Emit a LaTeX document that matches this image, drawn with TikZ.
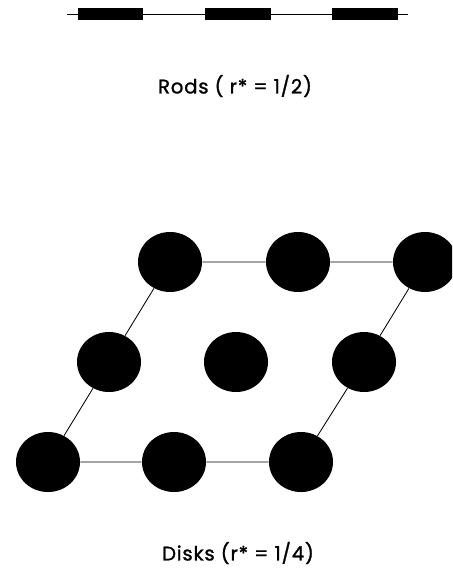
\documentclass[tikz,border=0pt]{standalone}
\usepackage{fontspec}
\setmainfont{Poppins}[LetterSpace=4, FakeBold=1.2]
\usetikzlibrary{shapes.geometric}
\tikzset{
    rod/.style={draw=none, fill=black, rectangle, inner sep=0pt,
        minimum width=1.625cm, minimum height=0.28cm},
    disk/.style={draw=none, fill=black, ellipse, inner sep=0pt,
        minimum width=1.6cm, minimum height=1.5cm},
    caption/.style={font=\fontsize{14}{16}\selectfont}
}
\begin{document}
\begin{tikzpicture}[x=0.025cm, y=-0.025cm, line width=0.6pt]
    \clip (0,0) rectangle (452,569);
    % rods
    \coordinate (rl) at (67,14);
    \coordinate (rr) at (408,14);
    \node[rod] (rod1) at (110.5,14) {};
    \node[rod] (rod2) at (238,14) {};
    \node[rod] (rod3) at (365,14) {};
    \draw (rl) -- (rod1) -- (rod2) -- (rod3) -- (rr);
    \node[caption] (rodlabel) at (235,86) {Rods ( r* = 1/2)};
    % disks
    \foreach \i/\x/\y in {1/48/462, 2/174/462, 3/301/462,
                          4/109/362, 5/236/362, 6/364/362,
                          7/170/262, 8/298/262, 9/425/262}
        \node[disk] (d\i) at (\x,\y) {};
    \draw (d1) -- (d2) -- (d3) -- (d6) -- (d9) -- (d8) -- (d7) -- (d4) -- (d1);
    \node[caption] (disklabel) at (238,553) {Disks (r* = 1/4)};
\end{tikzpicture}
\end{document}
